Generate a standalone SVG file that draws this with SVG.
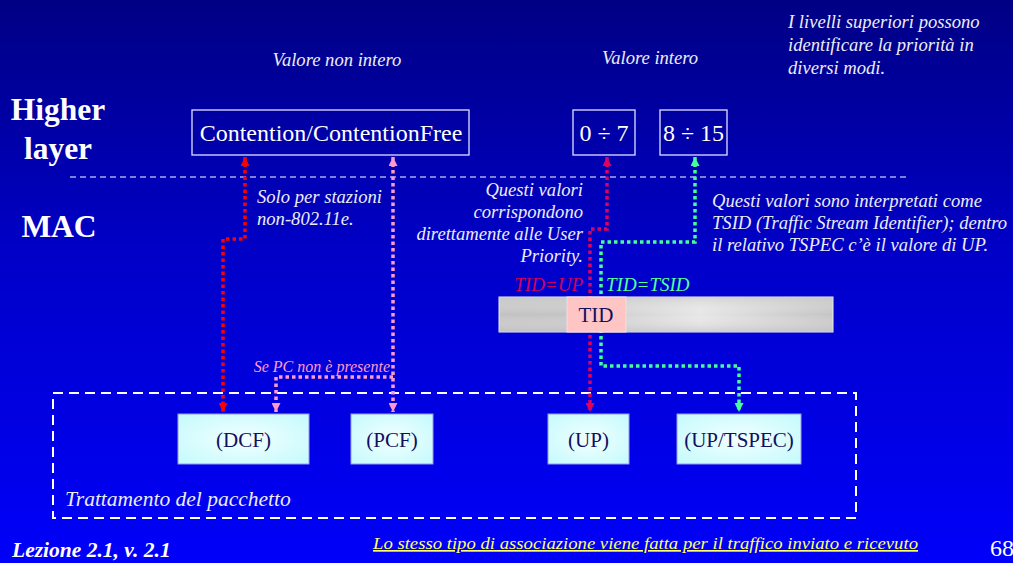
<svg xmlns="http://www.w3.org/2000/svg" width="1013" height="563" viewBox="0 0 1013 563">
<defs>
<linearGradient id="bg" x1="0" y1="0" x2="0" y2="1">
<stop offset="0" stop-color="#000084"/>
<stop offset="0.45" stop-color="#0000C8"/>
<stop offset="1" stop-color="#0000FA"/>
</linearGradient>
<radialGradient id="cyan" cx="0.5" cy="0.5" r="0.7">
<stop offset="0" stop-color="#F2FFFF"/>
<stop offset="1" stop-color="#C4FAFC"/>
</radialGradient>
<linearGradient id="bar" x1="0" y1="0" x2="1" y2="0">
<stop offset="0" stop-color="#C2C2C2"/>
<stop offset="0.2" stop-color="#C4C4C4"/>
<stop offset="0.6" stop-color="#E6E6E6"/>
<stop offset="1" stop-color="#C4C4C4"/>
</linearGradient>
<linearGradient id="barv" x1="0" y1="0" x2="0" y2="1">
<stop offset="0" stop-color="#C8C8C8" stop-opacity="0.6"/>
<stop offset="0.5" stop-color="#FFFFFF" stop-opacity="0"/>
<stop offset="1" stop-color="#C0C0C0" stop-opacity="0.6"/>
</linearGradient>
<marker id="aRed" viewBox="0 0 10 10" refX="10" refY="5" markerWidth="9" markerHeight="9" markerUnits="userSpaceOnUse" orient="auto-start-reverse"><path d="M0,0 L10,5 L0,10 z" fill="#FF0000"/></marker>
<marker id="aPink" viewBox="0 0 10 10" refX="10" refY="5" markerWidth="9" markerHeight="9" markerUnits="userSpaceOnUse" orient="auto-start-reverse"><path d="M0,0 L10,5 L0,10 z" fill="#FF99CC"/></marker>
<marker id="aCrim" viewBox="0 0 10 10" refX="10" refY="5" markerWidth="9" markerHeight="9" markerUnits="userSpaceOnUse" orient="auto-start-reverse"><path d="M0,0 L10,5 L0,10 z" fill="#E0005E"/></marker>
<marker id="aGreen" viewBox="0 0 10 10" refX="10" refY="5" markerWidth="9" markerHeight="9" markerUnits="userSpaceOnUse" orient="auto-start-reverse"><path d="M0,0 L10,5 L0,10 z" fill="#44FF99"/></marker>
</defs>
<style>
text{font-family:'Liberation Serif','DejaVu Serif',serif}
.note{font-style:italic;font-size:18.6px;fill:#ECECF4}
.big{font-weight:bold;font-size:31.5px;fill:#FFFFFF}
.hbox{fill:none;stroke:#E0E0FF;stroke-width:1.3}
.htxt{font-size:24px;fill:#FFFFFF}
.mbox{fill:url(#cyan);stroke:#9999EE;stroke-width:1}
.mtxt{font-size:21px;fill:#101060}
.dot{fill:none;stroke-width:3.5;stroke-dasharray:3.5 3}
</style>
<rect x="0" y="0" width="1013" height="563" fill="url(#bg)"/>

<text class="big" x="58" y="120" text-anchor="middle">Higher</text>
<text class="big" x="58" y="159" text-anchor="middle">layer</text>
<text class="big" x="59" y="237" text-anchor="middle">MAC</text>
<line x1="70" y1="177" x2="907" y2="177" stroke="#FFFFFF" stroke-width="1" stroke-dasharray="6 4"/>

<text class="note" x="337" y="66" text-anchor="middle">Valore non intero</text>
<text class="note" x="650" y="64" text-anchor="middle">Valore intero</text>
<text class="note" x="788" y="28">I livelli superiori possono</text>
<text class="note" x="788" y="51">identificare la priorità in</text>
<text class="note" x="788" y="74">diversi modi.</text>

<text class="note" x="257" y="203">Solo per stazioni</text>
<text class="note" x="257" y="225">non-802.11e.</text>
<text class="note" x="583" y="196" text-anchor="end">Questi valori</text>
<text class="note" x="583" y="218" text-anchor="end">corrispondono</text>
<text class="note" x="583" y="240" text-anchor="end">direttamente alle User</text>
<text class="note" x="583" y="262" text-anchor="end">Priority.</text>
<text class="note" x="712" y="207">Questi valori sono interpretati come</text>
<text class="note" x="712" y="229">TSID (Traffic Stream Identifier); dentro</text>
<text class="note" x="712" y="251">il relativo TSPEC c’è il valore di UP.</text>
<text class="note" x="583" y="291" text-anchor="end" style="font-size:19px;fill:#D0005A">TID=UP</text>
<text class="note" x="606" y="291" style="font-size:19px;fill:#55FF99">TID=TSID</text>
<text class="note" x="390" y="372" text-anchor="end" style="font-size:16px;fill:#FF99CC">Se PC non è presente</text>

<rect x="53" y="393" width="803" height="125" fill="none" stroke="#FFFFFF" stroke-width="2" stroke-dasharray="10 6"/>
<text class="note" x="65" y="506" style="font-size:21.5px">Trattamento del pacchetto</text>

<g id="connectors">
<path class="dot" d="M245,157 V239 H223 V412" stroke="#FF0000" marker-start="url(#aRed)" marker-end="url(#aRed)"/>
<path class="dot" d="M393,157 V412" stroke="#FF99CC" marker-start="url(#aPink)" marker-end="url(#aPink)"/>
<path class="dot" d="M393,377 H276 V412" stroke="#FF99CC" marker-end="url(#aPink)"/>
<path class="dot" d="M607,157 V229 H590 V412" stroke="#E0005E" marker-start="url(#aCrim)" marker-end="url(#aCrim)"/>
<path class="dot" d="M695,157 V242 H601 V366 H739 V412" stroke="#44FF99" marker-start="url(#aGreen)" marker-end="url(#aGreen)"/>
</g>

<g id="node-contention">
<rect class="hbox" x="192" y="110" width="277" height="45"/>
<text class="htxt" x="331" y="141" text-anchor="middle">Contention/ContentionFree</text>
</g>
<g id="node-0-7">
<rect class="hbox" x="573" y="110" width="62" height="45"/>
<text class="htxt" x="604" y="141" text-anchor="middle">0 ÷ 7</text>
</g>
<g id="node-8-15">
<rect class="hbox" x="660" y="110" width="67" height="45"/>
<text class="htxt" x="693.5" y="141" text-anchor="middle">8 ÷ 15</text>
</g>

<g id="node-tid">
<rect x="499" y="297" width="334" height="35" fill="url(#bar)" stroke="#F0F0F0" stroke-width="1"/>
<rect x="499" y="297" width="334" height="35" fill="url(#barv)"/>
<rect x="567" y="297" width="59" height="35" fill="#FFC4C4" stroke="#F0E0E0" stroke-width="1"/>
<text x="596" y="322" text-anchor="middle" font-size="21" fill="#101060">TID</text>
</g>

<g id="node-dcf">
<rect class="mbox" x="178" y="414" width="131" height="50"/>
<text class="mtxt" x="243.5" y="447" text-anchor="middle">(DCF)</text>
</g>
<g id="node-pcf">
<rect class="mbox" x="351" y="414" width="82" height="50"/>
<text class="mtxt" x="392" y="447" text-anchor="middle">(PCF)</text>
</g>
<g id="node-up">
<rect class="mbox" x="548" y="414" width="81" height="50"/>
<text class="mtxt" x="588.5" y="447" text-anchor="middle">(UP)</text>
</g>
<g id="node-uptspec">
<rect class="mbox" x="677" y="414" width="124" height="50"/>
<text class="mtxt" x="739" y="447" text-anchor="middle">(UP/TSPEC)</text>
</g>

<text x="12" y="557" font-size="21.5" font-weight="bold" font-style="italic" fill="#FFFFFF">Lezione 2.1, v. 2.1</text>
<text x="373" y="549" font-size="17" font-style="italic" fill="#FFFF66" text-decoration="underline" textLength="545" lengthAdjust="spacingAndGlyphs">Lo stesso tipo di associazione viene fatta per il traffico inviato e ricevuto</text>
<text x="990" y="556" font-size="24" fill="#FFFFFF">68</text>
</svg>
